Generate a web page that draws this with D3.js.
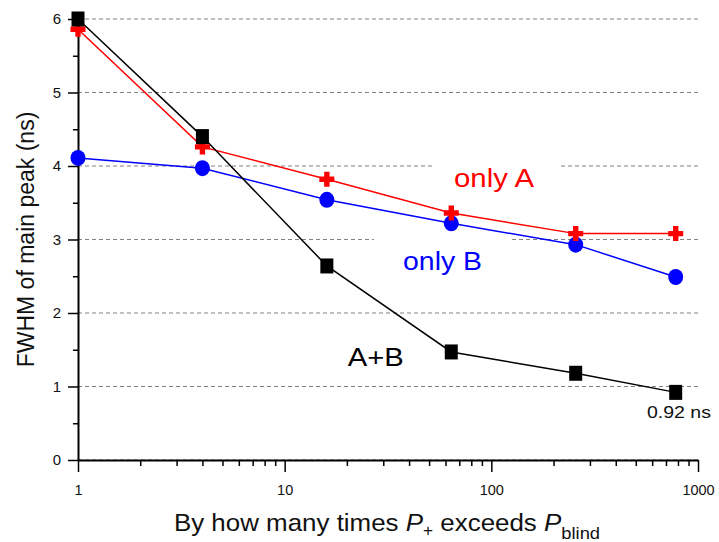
<!DOCTYPE html>
<html>
<head>
<meta charset="utf-8">
<script src="https://cdn.jsdelivr.net/npm/d3@7"></script>
<style>
  body { margin: 0; background: #fff; }
  text { font-family: "Liberation Sans", Arial, sans-serif; }
</style>
</head>
<body>
<svg id="chart"></svg>
<script>
// data
const ratios = [1, 4, 16, 64, 256, 780];
const onlyA = [5.86, 4.26, 3.82, 3.36, 3.08, 3.08];
const onlyB = [4.11, 3.97, 3.54, 3.22, 2.93, 2.49];
const bothAB = [6.0, 4.4, 2.64, 1.47, 1.18, 0.92];
const xTickLabels = [1, 10, 100, 1000];
const yTickLabels = [0, 1, 2, 3, 4, 5, 6];

const width = 719, height = 542;
const margin = {top: 19, right: 21, bottom: 82, left: 78};

const svg = d3.select("#chart")
    .attr("width", width)
    .attr("height", height);

const xScale = d3.scaleLog()
    .domain([1, 1000])
    .range([margin.left, width - margin.right]);

const yScale = d3.scaleLinear()
    .domain([0, 6])
    .range([height - margin.bottom, margin.top]);

// dashed grid
svg.append("g")
    .selectAll("line")
    .data(yTickLabels)
    .enter().append("line")
    .attr("x1", xScale(1))
    .attr("x2", xScale(1000))
    .attr("y1", d => yScale(d))
    .attr("y2", d => yScale(d))
    .attr("stroke", "#808080")
    .attr("stroke-width", 1.2)
    .attr("stroke-dasharray", "4,3");

// white boxes behind the two series labels (they break the grid)
const labelBoxes = [
  {x0: 51.6, x1: 217, y0: 3.6, y1: 4.08},
  {x0: 27, x1: 126, y0: 2.45, y1: 3.07}
];
svg.append("g")
    .selectAll("rect")
    .data(labelBoxes)
    .enter().append("rect")
    .attr("x", d => xScale(d.x0))
    .attr("width", d => xScale(d.x1) - xScale(d.x0))
    .attr("y", d => yScale(d.y1))
    .attr("height", d => yScale(d.y0) - yScale(d.y1))
    .attr("fill", "#fff");

// axes
const xMinor = [];
[1, 10, 100].forEach(p => { for (let k = 2; k <= 9; k++) xMinor.push(k * p); });

svg.append("g")
    .attr("transform", `translate(0,${yScale(0)})`)
    .call(d3.axisBottom(xScale).tickValues(xMinor).tickSize(6).tickFormat(""))
    .call(g => g.select(".domain").remove())
    .call(g => g.selectAll("line").attr("stroke-width", 1.5));

svg.append("g")
    .attr("transform", `translate(0,${yScale(0)})`)
    .call(d3.axisBottom(xScale).tickValues(xTickLabels).tickSize(12).tickSizeOuter(0)
        .tickPadding(13).tickFormat(d3.format("d")))
    .call(g => g.select(".domain").attr("stroke-width", 2))
    .call(g => g.selectAll("line").attr("stroke-width", 1.5))
    .call(g => g.selectAll("text").attr("font-size", 14.5).attr("fill", "#111")
        .attr("font-family", "Liberation Sans, Arial, sans-serif"));

svg.append("g")
    .attr("transform", `translate(${xScale(1)},0)`)
    .call(d3.axisLeft(yScale).tickValues(d3.range(0.5, 6, 1)).tickSize(5).tickFormat(""))
    .call(g => g.select(".domain").remove())
    .call(g => g.selectAll("line").attr("stroke-width", 1.5));

svg.append("g")
    .attr("transform", `translate(${xScale(1)},0)`)
    .call(d3.axisLeft(yScale).tickValues(yTickLabels).tickSize(10).tickSizeOuter(0)
        .tickPadding(7).tickFormat(d3.format("d")))
    .call(g => g.select(".domain").attr("stroke-width", 2))
    .call(g => g.selectAll("line").attr("stroke-width", 1.5))
    .call(g => g.selectAll("text").attr("font-size", 15).attr("fill", "#111")
        .attr("font-family", "Liberation Sans, Arial, sans-serif"));

// series
const series = [
  {name: "only B", values: onlyB, color: "#0000ff", marker: "circle"},
  {name: "only A", values: onlyA, color: "#ff0000", marker: "cross"},
  {name: "A+B", values: bothAB, color: "#000000", marker: "square"}
];

const line = d3.line()
    .x(d => xScale(d.x))
    .y(d => yScale(d.y));

series.forEach(s => {
  const pts = ratios.map((r, i) => ({x: r, y: s.values[i]}));
  svg.append("path")
      .datum(pts)
      .attr("fill", "none")
      .attr("stroke", s.color)
      .attr("stroke-width", 1.5)
      .attr("d", line);
});

series.forEach(s => {
  const pts = ratios.map((r, i) => ({x: r, y: s.values[i]}));
  const g = svg.append("g").attr("fill", s.color);
  if (s.marker === "circle") {
    g.selectAll("ellipse").data(pts).enter().append("ellipse")
        .attr("cx", d => xScale(d.x)).attr("cy", d => yScale(d.y))
        .attr("rx", 7.5).attr("ry", 8);
  } else if (s.marker === "square") {
    g.selectAll("rect").data(pts).enter().append("rect")
        .attr("x", d => xScale(d.x) - 6.5).attr("y", d => yScale(d.y) - 7.5)
        .attr("width", 13).attr("height", 15);
  } else {
    g.selectAll("path").data(pts).enter().append("path")
        .attr("transform", d => `translate(${xScale(d.x)},${yScale(d.y)})`)
        .attr("d", "M-2.7,-7.5H2.7V-2.7H7.5V2.7H2.7V7.5H-2.7V2.7H-7.5V-2.7H-2.7Z");
  }
});

// annotations (text in the picture is a bit wider than Arial, hence textLength)
const annotations = [
  {text: "only A", x: 66, y: 3.72, color: "#ff0000", size: 25, len: 80},
  {text: "only B", x: 37.4, y: 2.59, color: "#0000ff", size: 25, len: 79},
  {text: "A+B", x: 20.2, y: 1.28, color: "#000000", size: 25, len: 56},
  {text: "0.92 ns", x: 566, y: 0.57, color: "#111", size: 17, len: 64}
];
svg.append("g")
    .selectAll("text")
    .data(annotations)
    .enter().append("text")
    .attr("x", d => xScale(d.x))
    .attr("y", d => yScale(d.y))
    .attr("fill", d => d.color)
    .attr("font-size", d => d.size)
    .attr("textLength", d => d.len)
    .attr("lengthAdjust", "spacingAndGlyphs")
    .text(d => d.text);

// axis titles
svg.append("text")
    .attr("transform", `translate(34,${(margin.top + height - margin.bottom) / 2}) rotate(-90)`)
    .attr("text-anchor", "middle")
    .attr("font-size", 23)
    .attr("fill", "#111")
    .text("FWHM of main peak (ns)");

const xt = svg.append("text")
    .attr("transform", "translate(387,531) scale(1.08,1)")
    .attr("text-anchor", "middle")
    .attr("font-size", 24)
    .attr("fill", "#111");
xt.append("tspan").text("By how many times ");
xt.append("tspan").attr("font-style", "italic").text("P");
xt.append("tspan").attr("font-size", 16).attr("dy", 5).text("+");
xt.append("tspan").attr("dy", -5).text(" exceeds ");
xt.append("tspan").attr("font-style", "italic").text("P");
xt.append("tspan").attr("font-size", 17).attr("dy", 8).text("blind");
</script>
</body>
</html>
